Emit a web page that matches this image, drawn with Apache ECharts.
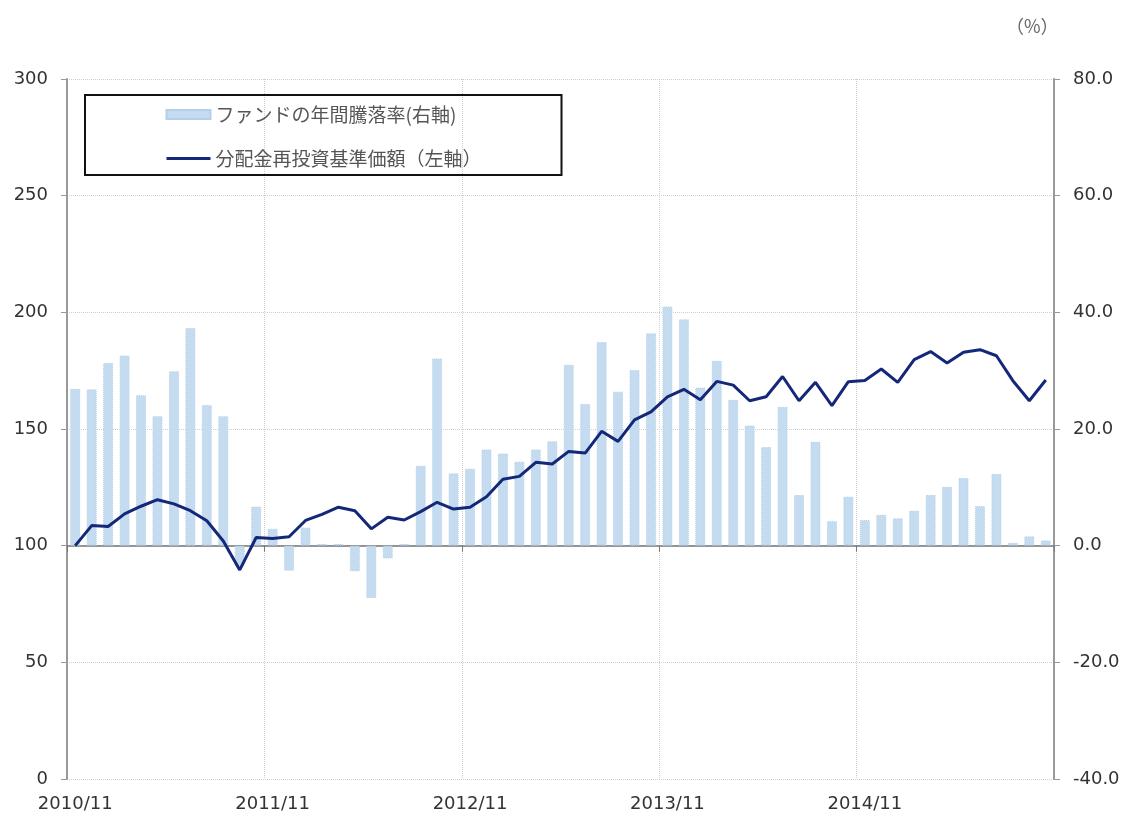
<!DOCTYPE html>
<html style="height: 100%">
<head>
<meta charset="UTF-8">
<title>基準価額と年間騰落率</title>
<script src="https://cdn.jsdelivr.net/npm/echarts@6/dist/echarts.min.js"></script>
</head>
<body style="height: 100%; margin: 0; background: #fff">
<div id="container" style="width: 1125px; height: 815px"></div>
<script type="text/javascript">
// months 2010/11 .. 2015/10
var months = [
    '2010/11', '2010/12', '2011/01', '2011/02', '2011/03', '2011/04', '2011/05', '2011/06', '2011/07', '2011/08', '2011/09', '2011/10',
    '2011/11', '2011/12', '2012/01', '2012/02', '2012/03', '2012/04', '2012/05', '2012/06', '2012/07', '2012/08', '2012/09', '2012/10',
    '2012/11', '2012/12', '2013/01', '2013/02', '2013/03', '2013/04', '2013/05', '2013/06', '2013/07', '2013/08', '2013/09', '2013/10',
    '2013/11', '2013/12', '2014/01', '2014/02', '2014/03', '2014/04', '2014/05', '2014/06', '2014/07', '2014/08', '2014/09', '2014/10',
    '2014/11', '2014/12', '2015/01', '2015/02', '2015/03', '2015/04', '2015/05', '2015/06', '2015/07', '2015/08', '2015/09', '2015/10'
];

// 分配金再投資基準価額 (left axis)
var navIndex = [
    100.0, 108.6, 108.2, 113.6, 116.9, 119.7, 117.9, 115.0, 110.7, 102.0, 89.6, 103.5,
    103.1, 103.8, 110.8, 113.4, 116.5, 115.0, 107.2, 112.2, 111.0, 114.6, 118.6, 115.7,
    116.5, 121.0, 128.5, 129.7, 135.7, 135.0, 140.4, 139.7, 149.0, 144.7, 153.9, 157.3,
    163.8, 167.0, 162.5, 170.4, 168.8, 162.1, 163.8, 172.5, 162.1, 170.0, 160.0, 170.3,
    170.8, 175.7, 170.0, 179.7, 183.2, 178.3, 182.9, 184.0, 181.4, 170.7, 162.1, 171.0
];

// ファンドの年間騰落率 % (right axis)
var yearlyReturn = [
    26.9, 26.8, 31.3, 32.6, 25.8, 22.2, 29.9, 37.3, 24.1, 22.2, -3.5, 6.7,
    2.9, -4.3, 3.1, 0.3, 0.3, -4.4, -9.0, -2.2, 0.3, 13.7, 32.1, 12.4,
    13.2, 16.5, 15.8, 14.4, 16.5, 17.9, 31.0, 24.3, 34.9, 26.4, 30.1, 36.4,
    41.0, 38.8, 27.1, 31.7, 25.0, 20.6, 16.9, 23.8, 8.7, 17.8, 4.2, 8.4,
    4.4, 5.3, 4.7, 6.0, 8.7, 10.1, 11.6, 6.8, 12.3, 0.5, 1.6, 0.9
];

var barName = 'ファンドの年間騰落率(右軸)';
var lineName = '分配金再投資基準価額（左軸）';

var numFont = '"DejaVu Sans", sans-serif';
var jpFont = '"Noto Sans CJK JP", sans-serif';

var myChart = echarts.init(document.getElementById('container'));

var option = {
    animation: false,
    backgroundColor: '#fff',
    grid: {
        left: 67,
        right: 71,
        top: 79,
        bottom: 36,
        containLabel: false
    },
    legend: {
        orient: 'vertical',
        left: 85,
        top: 95,
        borderColor: '#111',
        borderWidth: 2,
        padding: [10, 80, 7, 80],
        itemGap: 25,
        itemWidth: 44,
        itemHeight: 9,
        textStyle: {
            fontFamily: jpFont,
            fontSize: 19,
            color: '#555'
        },
        data: [
            { name: barName, icon: 'rect' },
            { name: lineName, itemStyle: { opacity: 0 }, lineStyle: { width: 3 } }
        ]
    },
    graphic: [{
        type: 'text',
        left: 1006,
        top: 17,
        style: {
            text: '（%）',
            fontFamily: jpFont,
            fontSize: 18,
            fill: '#666'
        }
    }],
    xAxis: [{
        type: 'category',
        data: months,
        position: 'bottom',
        axisLine: { show: false },
        axisTick: { show: false },
        axisLabel: {
            interval: 11,
            margin: 16,
            fontFamily: numFont,
            fontSize: 18,
            color: '#333'
        },
        splitLine: {
            show: true,
            interval: 11,
            lineStyle: { color: '#cfcfcf', type: 'dotted', width: 1 }
        }
    }, {
        type: 'category',
        data: months,
        axisLine: {
            onZero: true,
            onZeroAxisIndex: 1,
            lineStyle: { color: '#777', width: 1.5 }
        },
        axisTick: {
            show: true,
            inside: true,
            interval: 11,
            length: 6,
            lineStyle: { color: '#777' }
        },
        axisLabel: { show: false },
        splitLine: { show: false }
    }],
    yAxis: [{
        type: 'value',
        min: 0,
        max: 300,
        interval: 50,
        position: 'left',
        axisLine: { show: true, lineStyle: { color: '#999', width: 2 } },
        axisTick: { show: true, length: 6, lineStyle: { color: '#999' } },
        axisLabel: {
            margin: 19,
            fontFamily: numFont,
            fontSize: 18,
            color: '#333'
        },
        splitLine: {
            show: true,
            lineStyle: { color: '#cfcfcf', type: 'dotted', width: 1 }
        }
    }, {
        type: 'value',
        min: -40,
        max: 80,
        interval: 20,
        position: 'right',
        axisLine: { show: true, lineStyle: { color: '#999', width: 2 } },
        axisTick: { show: true, length: 6, lineStyle: { color: '#999' } },
        axisLabel: {
            margin: 19,
            fontFamily: numFont,
            fontSize: 18,
            color: '#333',
            formatter: function (v) { return v.toFixed(1); }
        },
        splitLine: { show: false }
    }],
    series: [{
        name: barName,
        type: 'bar',
        xAxisIndex: 0,
        yAxisIndex: 1,
        barWidth: 10,
        itemStyle: {
            color: '#c5dcf0',
            borderColor: '#b3cfe9',
            borderWidth: 1,
            borderType: 'dotted'
        },
        data: yearlyReturn
    }, {
        name: lineName,
        type: 'line',
        xAxisIndex: 0,
        yAxisIndex: 0,
        symbol: 'none',
        lineStyle: { color: '#14287a', width: 3 },
        itemStyle: { color: '#14287a' },
        z: 5,
        data: navIndex
    }]
};

myChart.setOption(option);
</script>
</body>
</html>
